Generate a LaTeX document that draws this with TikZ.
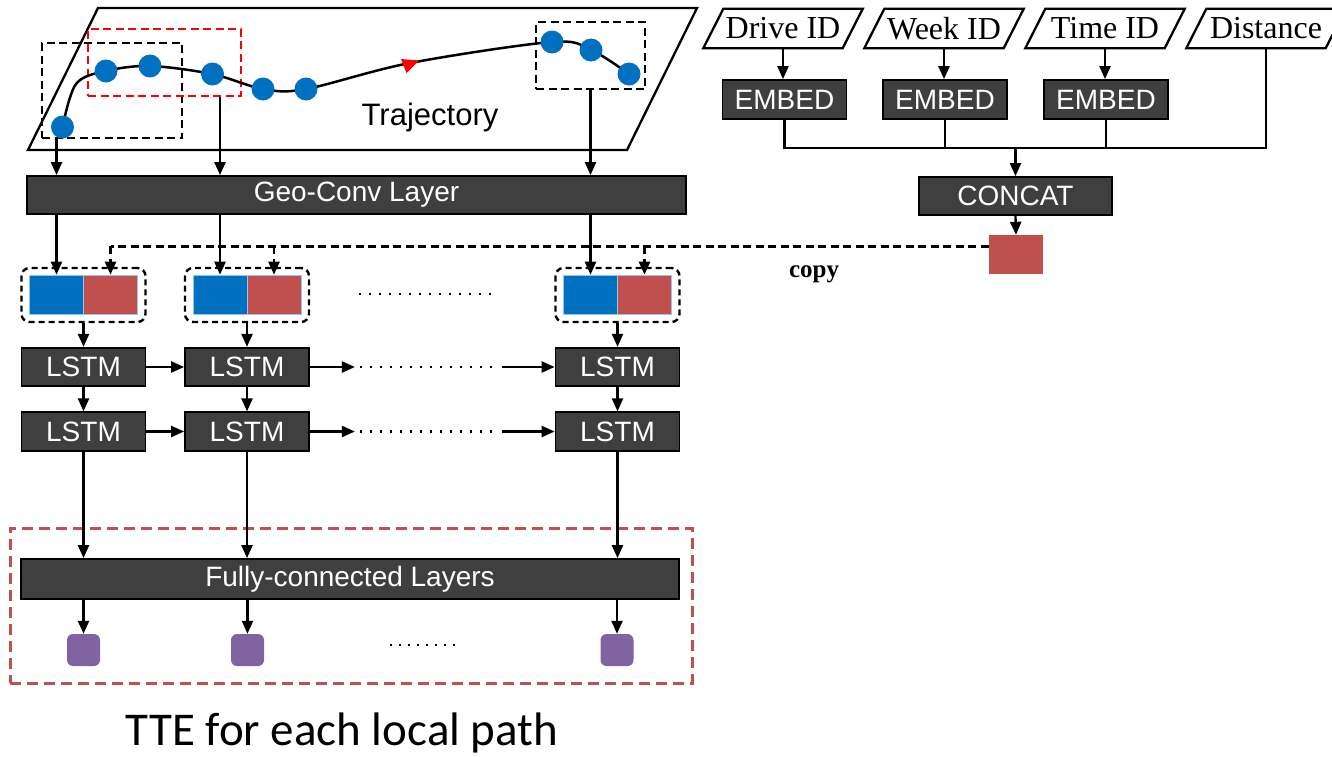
\documentclass[tikz,border=0pt]{standalone}
\usepackage{fontspec}
\setmainfont{Liberation Serif}
\newfontfamily\arialf{Liberation Sans}
\newfontfamily\calib{Carlito}
\usetikzlibrary{arrows.meta,calc}
\definecolor{dgray}{HTML}{3F3F3F}
\definecolor{cblue}{HTML}{0070C0}
\definecolor{cred}{HTML}{C0504D}
\definecolor{cpurple}{HTML}{8064A2}
\begin{document}
\begin{tikzpicture}[x=1pt,y=-1pt,
  dbox/.style={draw=black,line width=1.8pt,fill=dgray,text=white,inner sep=0pt,font=\arialf\fontsize{28}{30}\selectfont},
  arr/.style={-{Triangle[length=13pt,width=11pt]},line width=2.3pt},
  ln/.style={line width=2.3pt},
  tdot/.style={circle,fill=cblue,minimum size=23pt,inner sep=0pt},
  blkdash/.style={draw=black,dash pattern=on 8pt off 4.5pt,line width=2.4pt,inner sep=0pt},
  reddash/.style={draw=red,dash pattern=on 8pt off 4.5pt,line width=2.4pt,inner sep=0pt},
  cpdash/.style={dash pattern=on 8pt off 4.5pt,line width=2.4pt},
  cparr/.style={cpdash,-{Triangle[length=13pt,width=11pt]}},
  dotline/.style={line width=2.4pt,dash pattern=on 2pt off 8pt},
  grp/.style={draw=black,dash pattern=on 6pt off 4pt,line width=2.4pt,rounded corners=8pt,minimum width=124pt,minimum height=54pt,inner sep=0pt},
  bsq/.style={fill=cblue,draw=cblue!40!white,line width=0.6pt,minimum width=54pt,minimum height=39pt,inner sep=0pt},
  rsqs/.style={fill=cred,draw=cblue!40!white,line width=0.6pt,minimum width=54pt,minimum height=39pt,inner sep=0pt},
  lstm/.style={dbox,minimum width=124pt,minimum height=38.5pt},
  purp/.style={fill=cpurple,rounded corners=6pt,minimum width=33pt,minimum height=32pt,inner sep=0pt},
  inp/.style={minimum width=139pt,minimum height=39pt,inner sep=0pt,font=\fontsize{32}{34}\selectfont},
  emb/.style={dbox,minimum width=124pt,minimum height=39pt}
]
\useasboundingbox (0,0) rectangle (1332,756);

% ---------- trajectory plane ----------
\draw[line width=2.3pt] (98,8) -- (697,8) -- (627,150) -- (28,150) -- cycle;
\node[blkdash,minimum width=140pt,minimum height=95pt] (win1) at (112,90.5) {};
\node[reddash,minimum width=153pt,minimum height=67pt] (win2) at (164.5,62.5) {};
\node[blkdash,minimum width=109pt,minimum height=67pt] (win3) at (590.5,55.5) {};
\draw[line width=2.5pt] plot[smooth,tension=0.55] coordinates {(62.5,127) (76,84) (106,71) (150,66) (212,74) (263,89) (306,89) (410,63) (552,42) (591,50) (629,74)};
\fill[red] (419,60.5) -- (401,59) -- (406.5,73) -- cycle;
\node[tdot] (t1) at (62.5,127) {};
\node[tdot] (t2) at (106,71) {};
\node[tdot] (t3) at (150,66) {};
\node[tdot] (t4) at (212.5,74) {};
\node[tdot] (t5) at (263,89) {};
\node[tdot] (t6) at (306,89) {};
\node[tdot] (t7) at (552,42) {};
\node[tdot] (t8) at (591,50) {};
\node[tdot] (t9) at (629,74) {};
\node[anchor=base,font=\arialf\fontsize{31}{33}\selectfont] (trajlbl) at (430,125) {Trajectory};

% ---------- geo-conv ----------
\node[dbox,minimum width=659pt,minimum height=38pt] (geo) at (356.5,195) {Geo-Conv Layer};

% ---------- groups ----------
\node[grp] (g1) at (83.5,295) {};
\node[grp] (g2) at (247,295) {};
\node[grp] (g3) at (617.5,295) {};
\node[bsq] (b1) at (56.5,294.5) {};
\node[rsqs] (r1) at (110.5,294.5) {};
\node[bsq] (b2) at (220,294.5) {};
\node[rsqs] (r2) at (274,294.5) {};
\node[bsq] (b3) at (590.5,294.5) {};
\node[rsqs] (r3) at (644.5,294.5) {};

\draw[arr] (b1 |- win1.south) -- (b1 |- geo.north);
\draw[arr] (b2 |- win2.south) -- (b2 |- geo.north);
\draw[arr] (b3 |- win3.south) -- (b3 |- geo.north);
\draw[arr] (b1 |- geo.south) -- (b1.north);
\draw[arr] (b2 |- geo.south) -- (b2.north);
\draw[arr] (b3 |- geo.south) -- (b3.north);

% ---------- right side inputs ----------
\node[inp] (drv) at (783,28.5) {Drive ID};
\node[inp] (wk) at (944,28.5) {Week ID};
\node[inp] (tm) at (1105,28.5) {Time ID};
\node[inp] (dst) at (1266,28.5) {Distance};
\foreach \n in {drv,wk,tm,dst}{
  \draw[ln] ($(\n.south west)+(-10,0)$) -- ($(\n.south east)+(-10,0)$) -- ($(\n.north east)+(10,0)$) -- ($(\n.north west)+(10,0)$) -- cycle;
}
\node[emb] (e1) at (784.5,99.5) {EMBED};
\node[emb] (e2) at (945,99.5) {EMBED};
\node[emb] (e3) at (1106,99.5) {EMBED};
\draw[arr] (drv.south) -- (drv.south |- e1.north);
\draw[arr] (wk.south) -- (wk.south |- e2.north);
\draw[arr] (tm.south) -- (tm.south |- e3.north);
\coordinate (busy) at (0,148);
\draw[ln] (e1.south) -- (e1.south |- busy) -- (dst.south |- busy) -- (dst.south);
\draw[ln] (e2.south) -- (e2.south |- busy);
\draw[ln] (e3.south) -- (e3.south |- busy);
\node[dbox,minimum width=193pt,minimum height=38pt] (concat) at (1015.5,196) {CONCAT};
\node[fill=cred,minimum width=54pt,minimum height=39pt,inner sep=0pt] (rsq) at (1016,254.5) {};
\draw[arr] (concat.north |- busy) -- (concat.north);
\draw[arr] (concat.south) -- (rsq.north);
\coordinate (cp) at ($(rsq.north west)+(0,11.5)$);
\draw[cpdash] (cp) -- (r1 |- cp);
\draw[cparr] (r1 |- cp) -- (r1.north);
\draw[cparr] (r2 |- cp) -- (r2.north);
\draw[cparr] (r3 |- cp) -- (r3.north);
\node[anchor=base,font=\bfseries\fontsize{25}{27}\selectfont] (copy) at (814,277) {copy};
\coordinate (gd1) at (359,294);
\coordinate (gd2) at (497,294);
\draw[dotline] (gd1) -- (gd2);

% ---------- LSTMs ----------
\node[lstm] (l11) at (83.5,367) {LSTM};
\node[lstm] (l12) at (247,367) {LSTM};
\node[lstm] (l13) at (617.5,367) {LSTM};
\node[lstm] (l21) at (83.5,431.5) {LSTM};
\node[lstm] (l22) at (247,431.5) {LSTM};
\node[lstm] (l23) at (617.5,431.5) {LSTM};
\draw[arr] (g1.south) -- (l11.north);
\draw[arr] (g2.south) -- (l12.north);
\draw[arr] (g3.south) -- (l13.north);
\draw[arr] (l11.south) -- (l21.north);
\draw[arr] (l12.south) -- (l22.north);
\draw[arr] (l13.south) -- (l23.north);
\foreach \a/\b/\c in {l11/l12/l13,l21/l22/l23}{
  \draw[arr] (\a.east) -- (\b.west);
  \draw[arr] (\b.east) -- ($(\b.east)+(45,0)$);
  \draw[dotline] ($(\b.east)+(50,0)$) -- ($(\c.west)+(-59,0)$);
  \draw[arr] ($(\c.west)+(-53,0)$) -- (\c.west);
}

% ---------- FC ----------
\node[draw=cred,dash pattern=on 11pt off 6pt,line width=3pt,minimum width=682pt,minimum height=155pt,inner sep=0pt] (ttebox) at (351,605.5) {};
\node[dbox,minimum width=658pt,minimum height=40pt] (fc) at (350,579) {Fully-connected Layers};
\draw[arr] (l21.south) -- (l21.south |- fc.north);
\draw[arr] (l22.south) -- (l22.south |- fc.north);
\draw[arr] (l23.south) -- (l23.south |- fc.north);
\node[purp] (p1) at (83.5,650) {};
\node[purp] (p2) at (247.5,650) {};
\node[purp] (p3) at (617,650) {};
\draw[arr] (p1 |- fc.south) -- (p1.north);
\draw[arr] (p2 |- fc.south) -- (p2.north);
\draw[arr] (p3 |- fc.south) -- (p3.north);
\coordinate (pd1) at (390,645);
\coordinate (pd2) at (460,645);
\draw[dotline,dash pattern=on 2pt off 7pt] (pd1) -- (pd2);

\node[anchor=base,font=\calib\fontsize{47}{50}\selectfont] (ttelbl) at (342,745) {TTE for each local path};
\end{tikzpicture}
\end{document}
